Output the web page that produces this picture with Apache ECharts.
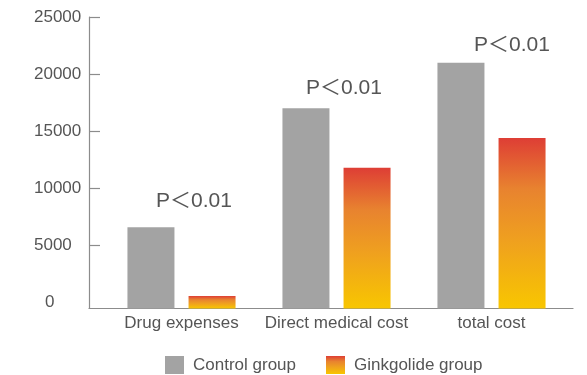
<!DOCTYPE html>
<html>
<head>
<meta charset="utf-8">
<script src="https://cdn.jsdelivr.net/npm/echarts@6/dist/echarts.min.js"></script>
<style>
  html, body { margin: 0; padding: 0; background: #fff; }
  #chart { width: 587px; height: 375px; }
</style>
</head>
<body>
<div id="chart"></div>
<script>
// Cost comparison: control vs ginkgolide group
const categories = ['Drug expenses', 'Direct medical cost', 'total cost'];
const controlValues = [6600, 17000, 21000];
const ginkgolideValues = [570, 11800, 14400];
const significance = ['P＜0.01', 'P＜0.01', 'P＜0.01'];
const yTicks = [0, 5000, 10000, 15000, 20000, 25000];
const seriesNames = ['Control group', 'Ginkgolide group'];

// label placement relative to each control bar (style only)
const pLabelOffsets = [[43, -10], [38, -5], [51, -2]];

const FONT = '"Liberation Sans", Arial, "Noto Sans CJK SC", sans-serif';
const TEXT = '#555555';
const AXIS = '#8c8c8c';
const Y_MIN = -525;   // axis frame sits slightly below the zero line
const Y_MAX = 25000;

const chart = echarts.init(document.getElementById('chart'), null, { renderer: 'canvas' });

const warmGradient = new echarts.graphic.LinearGradient(0, 0, 0, 1, [
  { offset: 0, color: '#de3e35' },
  { offset: 0.3, color: '#e8832f' },
  { offset: 0.6, color: '#efa01f' },
  { offset: 1, color: '#f8c600' }
]);

const controlData = controlValues.map((v, i) => ({
  value: v,
  label: {
    show: true,
    position: 'top',
    formatter: significance[i],
    offset: pLabelOffsets[i]
  }
}));

chart.setOption({
  animation: false,
  textStyle: { fontFamily: FONT },
  grid: [
    // frame grid: axis lines, y ticks and labels
    { left: 89, right: 14, top: 17, bottom: 66.5 },
    // plotting grid for the bars
    { left: 104, right: 18, top: 17, bottom: 66.5 }
  ],
  legend: {
    left: 165,
    top: 356,
    padding: 0,
    itemWidth: 19,
    itemHeight: 18,
    itemGap: 30,
    icon: 'rect',
    textStyle: { fontSize: 17, color: TEXT, fontFamily: FONT, padding: [0, 0, 0, 4] },
    data: seriesNames
  },
  xAxis: [
    {
      gridIndex: 0,
      type: 'category',
      data: categories,
      axisLine: { show: true, onZero: false, lineStyle: { color: AXIS, width: 1.2 } },
      axisTick: { show: false },
      axisLabel: { show: false },
      splitLine: { show: false }
    },
    {
      gridIndex: 1,
      type: 'category',
      data: categories,
      axisLine: { show: false, onZero: false },
      axisTick: { show: false },
      axisLabel: { show: true, interval: 0, fontSize: 17, color: TEXT, fontFamily: FONT, margin: 6 },
      splitLine: { show: false }
    }
  ],
  yAxis: [
    {
      gridIndex: 0,
      type: 'value',
      min: Y_MIN,
      max: Y_MAX,
      axisLine: { show: true, lineStyle: { color: AXIS, width: 1.2 } },
      axisTick: {
        show: true,
        inside: true,
        length: 11,
        lineStyle: { color: AXIS, width: 1.2 },
        customValues: yTicks.filter(v => v > 0)
      },
      axisLabel: {
        show: true,
        customValues: yTicks,
        align: 'left',
        margin: 55,
        fontSize: 17,
        color: TEXT,
        fontFamily: FONT,
        formatter: v => (v === 0 ? '{z|0}' : String(v)),
        rich: { z: { fontSize: 17, color: TEXT, fontFamily: FONT, padding: [0, 0, 0, 11] } }
      },
      splitLine: { show: false }
    },
    {
      gridIndex: 1,
      type: 'value',
      min: Y_MIN,
      max: Y_MAX,
      startValue: Y_MIN,
      show: false,
      splitLine: { show: false }
    }
  ],
  series: [
    {
      name: seriesNames[0],
      type: 'bar',
      xAxisIndex: 1,
      yAxisIndex: 1,
      barWidth: 47,
      barGap: '30%',
      itemStyle: { color: '#a3a3a3' },
      label: { fontSize: 21, color: TEXT, fontFamily: FONT, distance: 5 },
      data: controlData
    },
    {
      name: seriesNames[1],
      type: 'bar',
      xAxisIndex: 1,
      yAxisIndex: 1,
      barWidth: 47,
      barGap: '30%',
      itemStyle: { color: warmGradient },
      data: ginkgolideValues
    }
  ]
});
</script>
</body>
</html>
